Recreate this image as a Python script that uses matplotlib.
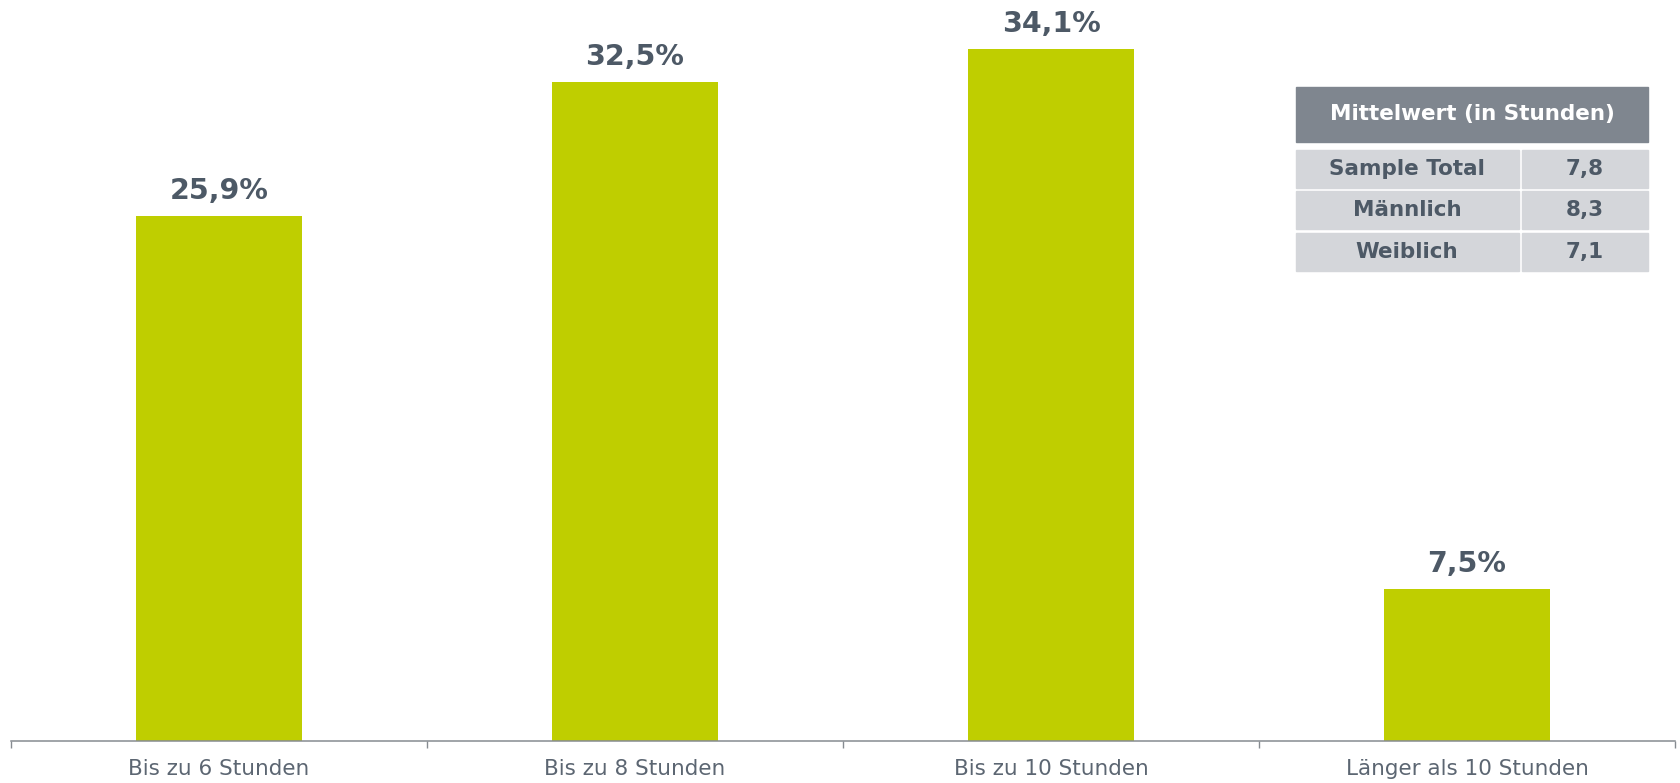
import matplotlib.pyplot as plt
from matplotlib.patches import Rectangle

categories = ['Bis zu 6 Stunden', 'Bis zu 8 Stunden', 'Bis zu 10 Stunden', 'Länger als 10 Stunden']
values = [25.9, 32.5, 34.1, 7.5]

table_title = 'Mittelwert (in Stunden)'
table_groups = ['Sample Total', 'Männlich', 'Weiblich']
table_means = [7.8, 8.3, 7.1]

bar_color = '#bfce00'
label_color = '#4d5966'
tick_color = '#5c6672'

W, H = 1681, 783
fig = plt.figure(figsize=(W / 100, H / 100), dpi=100)
ax = fig.add_axes([11 / W, 42 / H, 1664 / W, 741 / H])

x = range(len(categories))
ax.bar(x, values, width=0.4, color=bar_color)
ax.set_xlim(-0.5, len(categories) - 0.5)
ax.set_ylim(0, 741 / 20.28)

for i, v in enumerate(values):
    ax.annotate(f'{v:.1f}%'.replace('.', ','), (i, v), xytext=(0, 18), textcoords='offset points',
                ha='center', va='center', fontsize=20.5, fontweight='bold', color=label_color)

for s in ['left', 'right', 'top']:
    ax.spines[s].set_visible(False)
ax.spines['bottom'].set_color('#868b91')
ax.spines['bottom'].set_linewidth(1.1)
ax.set_yticks([])
ax.set_xticks(list(x))
ax.set_xticklabels(categories, fontsize=15.5, color=tick_color)
ax.set_xticks([i - 0.5 for i in range(len(categories) + 1)], minor=True)
ax.tick_params(axis='x', which='major', length=0, pad=13)
ax.tick_params(axis='x', which='minor', length=5, width=1, color='#868b91', direction='out')

# mean value table, drawn in pixel space
tax = fig.add_axes([0, 0, 1, 1])
tax.set_xlim(0, W)
tax.set_ylim(H, 0)
tax.axis('off')
tax.add_patch(Rectangle((1296, 87), 352, 55, color='#7f868f'))
tax.text(1472, 114, table_title, ha='center', va='center', fontsize=15.5, fontweight='bold', color='white')
row_tops = [150, 191, 233]
for top, g, m in zip(row_tops, table_groups, table_means):
    tax.add_patch(Rectangle((1296, top), 223, 38, color='#d4d6da'))
    tax.add_patch(Rectangle((1522, top), 126, 38, color='#d4d6da'))
    tax.text(1407, top + 19, g, ha='center', va='center', fontsize=15.5, fontweight='bold', color=label_color)
    tax.text(1585, top + 19, f'{m:.1f}'.replace('.', ','), ha='center', va='center', fontsize=15.5,
             fontweight='bold', color=label_color)

fig.savefig('out.png', dpi=100)
